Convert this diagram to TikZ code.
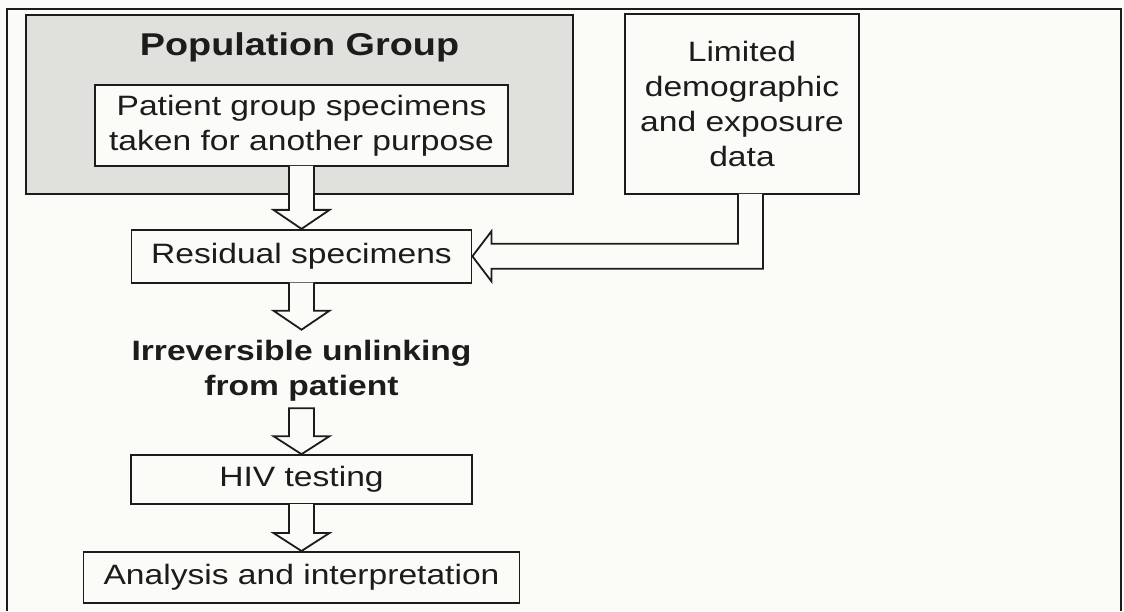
\documentclass[tikz,border=0pt]{standalone}
\usepackage{fontspec}
\setmainfont{Liberation Sans}[FakeStretch=1.2]
\definecolor{paper}{RGB}{251,251,248}
\definecolor{shade}{RGB}{224,224,221}
\definecolor{ink}{RGB}{28,28,28}
\usetikzlibrary{
  calc,
  positioning,
}
\tikzset{
  box/.style={draw=ink,rectangle,fill=paper,line width=1.8pt,text=ink,inner sep=0pt,align=center,font=\fontsize{28}{35}\selectfont},
  bigarrow/.style={draw=ink,fill=paper,line width=1.8pt,line join=miter},
}

\begin{document}
\begin{tikzpicture}[x=1pt,y=1pt,node distance=0mm and 0mm]
      \useasboundingbox[fill=paper] (0,0) rectangle (1124,611);
      \draw[ink,line width=1.6pt] (7,0) |- (1121,602) -- (1121,0);

      % population group and the specimens taken from it
      \node[box,minimum width=547,minimum height=179,fill=shade]    (popgroup)  at (299.5,506.5)  {};
      \node[text=ink,inner sep=0pt,font=\bfseries\fontsize{31.5}{38}\selectfont]    (title)  [below=18pt of popgroup.north]  {Population Group};
      \node[box,minimum width=413,minimum height=81]    (patient)  at (301.5,485.5)  {Patient group specimens\\taken for another purpose};

      % side data
      \node[box,minimum width=234,minimum height=180]    (limited)  at (742,507)  {Limited\\demographic\\and exposure\\data};

      % main chain
      \node[box,minimum width=340,minimum height=53]    (residual)  [below=62pt of patient]  {Residual specimens};
      \node[text=ink,inner sep=0pt,align=center,font=\bfseries\fontsize{28}{35}\selectfont]    (unlink)  [below=56pt of residual]  {Irreversible unlinking\\from patient};
      \node[box,minimum width=341,minimum height=49]    (hiv)  [below=53pt of unlink]  {HIV testing};
      \node[box,minimum width=436,minimum height=51]    (analysis)  [below=46pt of hiv]  {Analysis and interpretation};

      % block arrows
      \coordinate (tip1) at (patient.south |- residual.north);
      \coordinate (tip2) at ($(residual.south |- unlink.north)+(0,10)$);
      \coordinate (top3) at ($(hiv.north |- unlink.south)+(0,-7)$);
      \coordinate (tip4) at (hiv.south |- analysis.north);
      \coordinate (lk) at ($(limited.south)+(8.5,0)$);

      \draw[bigarrow] ($(patient.south)+(-12.5,1)$) -- ($(tip1)+(-12.5,19)$) -- ++(-15.5,0) -- (tip1) -- ++(28,19) -- ++(-15.5,0) -- ($(patient.south)+(12.5,1)$);
      \draw[bigarrow] ($(residual.south)+(-12.5,1)$) -- ($(tip2)+(-12.5,19)$) -- ++(-15.5,0) -- (tip2) -- ++(28,19) -- ++(-15.5,0) -- ($(residual.south)+(12.5,1)$);
      \draw[bigarrow] ($(top3)+(-12.5,0)$) -- ($(hiv.north)+(-12.5,18)$) -- ++(-15.5,0) -- (hiv.north) -- ++(28,18) -- ++(-15.5,0) -- ($(top3)+(12.5,0)$) -- cycle;
      \draw[bigarrow] ($(hiv.south)+(-12.5,1)$) -- ($(tip4)+(-12.5,18)$) -- ++(-15.5,0) -- (tip4) -- ++(28,18) -- ++(-15.5,0) -- ($(hiv.south)+(12.5,1)$);
      \draw[bigarrow] ($(lk)+(-12.5,1)$) |- ($(residual.east)+(19,12.5)$) -- ++(0,12.5) -- (residual.east) -- ++(19,-25) -- ++(0,12.5) -| ($(lk)+(12.5,1)$);

    \end{tikzpicture}
\end{document}
